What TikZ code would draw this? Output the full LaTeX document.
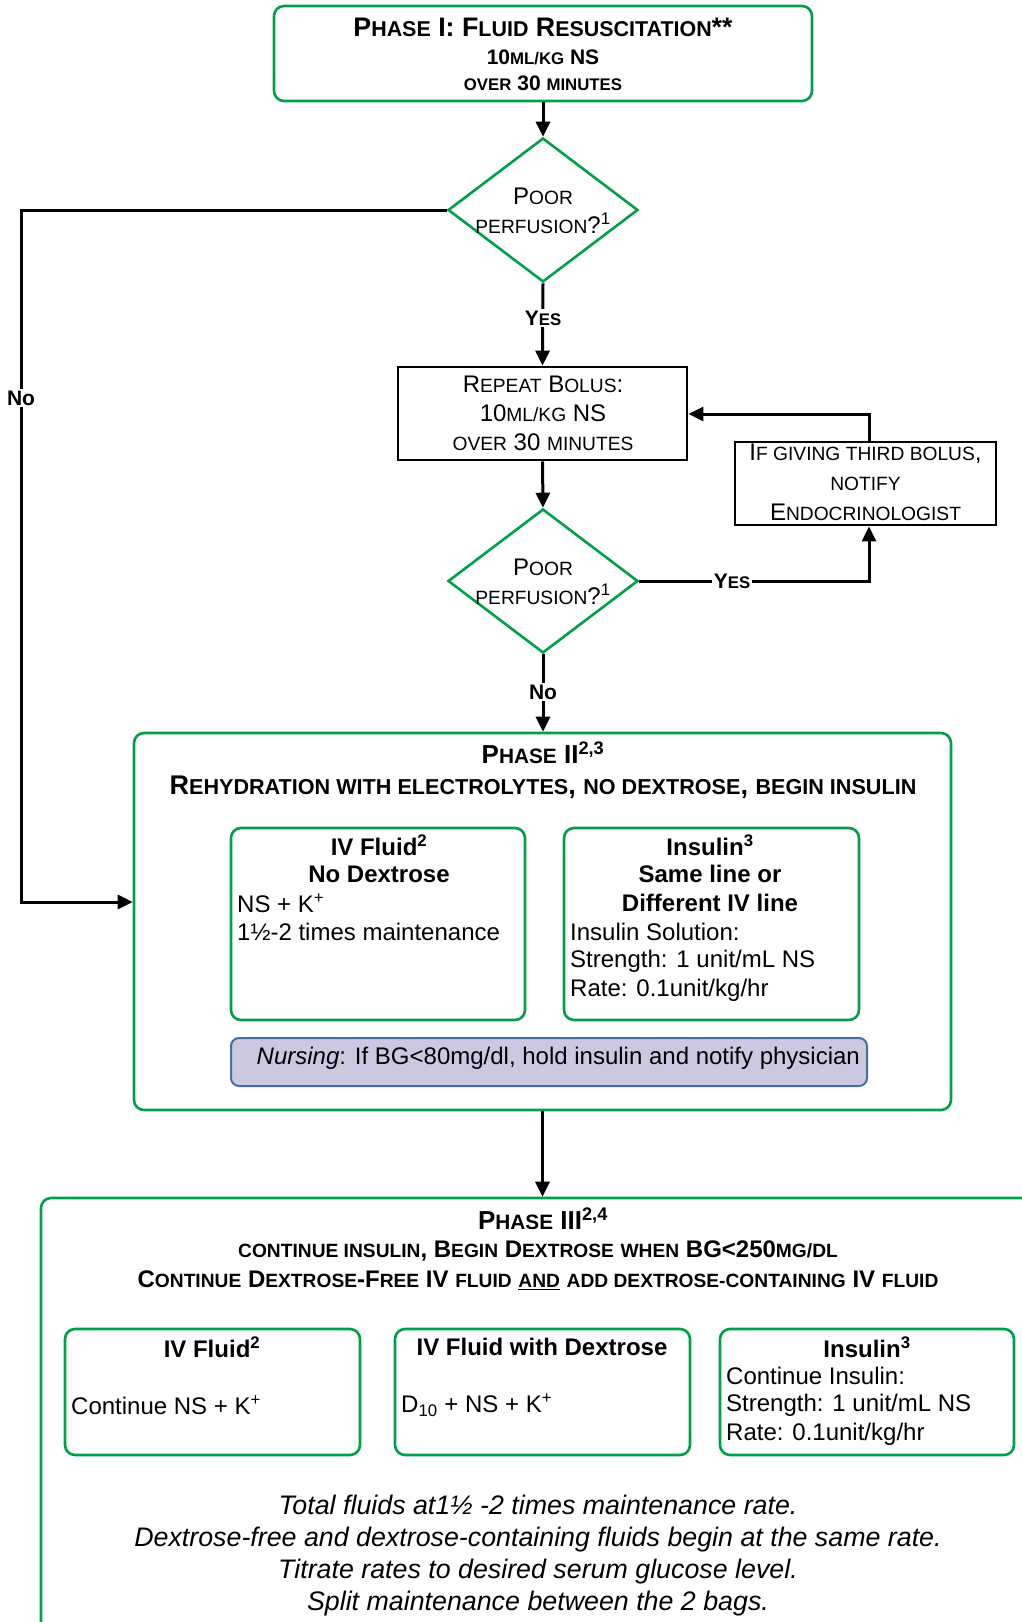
\documentclass[tikz,border=0pt]{standalone}
\usepackage{fontspec}
\setmainfont{Liberation Sans}
\usetikzlibrary{shapes.geometric,arrows.meta}
\definecolor{grn}{RGB}{0,160,75}
\definecolor{lav}{RGB}{204,200,226}
\definecolor{navy}{RGB}{70,110,160}
\newcommand\sm[1]{\scalebox{0.8}{#1}}
\begin{document}
\begin{tikzpicture}[x=1pt,y=-1pt,
  gbox/.style={draw=grn, line width=2.6pt, rounded corners=10pt, inner sep=0pt},
  kbox/.style={draw=black, line width=2.8pt, inner sep=0pt},
  dia/.style={diamond, draw=grn, line width=2.6pt, inner sep=0pt},
  conn/.style={line width=3pt, -{Triangle[length=15pt,width=14pt]}},
  t/.style={inner sep=0pt, font=\fontsize{24}{29}\selectfont},
  tb/.style={inner sep=0pt, font=\fontsize{24}{29}\selectfont\bfseries},
  hd/.style={inner sep=0pt, font=\fontsize{26}{30}\selectfont\bfseries},
  ti/.style={inner sep=0pt, font=\fontsize{26.8}{31}\selectfont\itshape},
  lbl/.style={fill=white, inner sep=1.5pt, font=\fontsize{21}{24}\selectfont\bfseries}]
\useasboundingbox (0,0) rectangle (1022,1622);
\clip (0,0) rectangle (1022,1622);
\fill[white] (0,0) rectangle (1022,1622);

% ---------- Phase I ----------
\node[gbox, minimum width=538pt, minimum height=95pt] (p1) at (543,53.5) {};
\node[hd, font=\fontsize{26.8}{30}\selectfont\bfseries] (p1a) at (543,27) {P\sm{HASE} I: F\sm{LUID} R\sm{ESUSCITATION}**};
\node[tb, font=\fontsize{21}{25}\selectfont\bfseries] (p1b) at (543,57) {10\sm{ML/KG} NS};
\node[tb, font=\fontsize{21}{25}\selectfont\bfseries] (p1c) at (543,83) {\sm{OVER} 30 \sm{MINUTES}};

% ---------- Diamond 1 ----------
\node[dia, minimum width=190pt, minimum height=144pt] (d1) at (543,210) {};
\node[t] (d1a) at (543,196) {P\sm{OOR}};
\node[t] (d1b) at (543,223) {\sm{PERFUSION}?\textsuperscript{1}};

% ---------- Repeat bolus ----------
\node[kbox, minimum width=289pt, minimum height=93pt] (rep) at (542.5,413.5) {};
\node[t] (repa) at (543,384) {R\sm{EPEAT} B\sm{OLUS}:};
\node[t] (repb) at (543,413) {10\sm{ML/KG} NS};
\node[t] (repc) at (543,442) {\sm{OVER} 30 \sm{MINUTES}};

% ---------- Notify ----------
\node[kbox, minimum width=261pt, minimum height=83pt] (ntf) at (865.5,483.5) {};
\node[t] (ntfa) at (865.5,454) {I\sm{F GIVING THIRD BOLUS},};
\node[t] (ntfb) at (865.5,484) {\sm{NOTIFY}};
\node[t] (ntfc) at (865.5,512) {E\sm{NDOCRINOLOGIST}};

% ---------- Diamond 2 ----------
\node[dia, minimum width=190pt, minimum height=144pt] (d2) at (543,581) {};
\node[t] (d2a) at (543,567) {P\sm{OOR}};
\node[t] (d2b) at (543,594) {\sm{PERFUSION}?\textsuperscript{1}};

% ---------- Phase II ----------
\node[gbox, minimum width=817pt, minimum height=377pt] (p2) at (542.5,921.5) {};
\node[hd] (p2a) at (543,753) {P\sm{HASE} II\textsuperscript{2,3}};
\node[hd, font=\fontsize{27}{30}\selectfont\bfseries] (p2b) at (543,787) {R\sm{EHYDRATION WITH ELECTROLYTES}, \sm{NO DEXTROSE}, \sm{BEGIN INSULIN}};

\node[gbox, minimum width=294pt, minimum height=192pt] (ivf) at (378,924) {};
\node[tb] (ivfa) at (379,845) {IV Fluid\textsuperscript{2}};
\node[tb] (ivfb) at (379,874) {No Dextrose};
\node[t, anchor=west] (ivfc) at (237,903) {NS + K\textsuperscript{+}};
\node[t, anchor=west] (ivfd) at (237,932) {1½-2 times maintenance};

\node[gbox, minimum width=295pt, minimum height=192pt] (ins) at (711.5,924) {};
\node[tb] (insa) at (710,845) {Insulin\textsuperscript{3}};
\node[tb] (insb) at (710,874) {Same line or};
\node[tb] (insc) at (710,903) {Different IV line};
\node[t, anchor=west] (insd) at (570,932) {Insulin Solution:};
\node[t, anchor=west] (inse) at (570,961) {Strength: 1 unit/mL NS};
\node[t, anchor=west] (insf) at (570,990) {Rate: 0.1unit/kg/hr};

\node[draw=navy, fill=lav, line width=2pt, rounded corners=8pt, inner sep=0pt,
      minimum width=636pt, minimum height=48pt] (nur) at (549,1062) {};
\node[t, anchor=west] (nurt) at (256.5,1058) {\textit{Nursing}: If BG<80mg/dl, hold insulin and notify physician};

% ---------- Phase III ----------
\node[gbox, minimum width=1039pt, minimum height=482pt] (p3) at (560.5,1439) {};
\node[hd] (p3a) at (543,1219) {P\sm{HASE} III\textsuperscript{2,4}};
\node[tb] (p3b) at (538,1251) {\sm{CONTINUE INSULIN}, B\sm{EGIN} D\sm{EXTROSE} \sm{WHEN} BG<250\sm{MG/DL}};
\node[tb] (p3c) at (538,1280) {C\sm{ONTINUE} D\sm{EXTROSE}-F\sm{REE} IV \sm{FLUID} \underline{\sm{AND}} \sm{ADD DEXTROSE-CONTAINING} IV \sm{FLUID}};

\node[gbox, minimum width=295pt, minimum height=126pt] (b1) at (212.5,1392) {};
\node[tb] (b1a) at (212,1347) {IV Fluid\textsuperscript{2}};
\node[t, anchor=west] (b1b) at (71,1405) {Continue NS + K\textsuperscript{+}};

\node[gbox, minimum width=295pt, minimum height=126pt] (b2) at (542.5,1392) {};
\node[tb] (b2a) at (542,1347) {IV Fluid with Dextrose};
\node[t, anchor=west] (b2b) at (401,1405) {D\textsubscript{10} + NS + K\textsuperscript{+}};

\node[gbox, minimum width=294pt, minimum height=126pt] (b3) at (867,1392) {};
\node[tb] (b3a) at (867,1347) {Insulin\textsuperscript{3}};
\node[t, anchor=west] (b3b) at (726,1376) {Continue Insulin:};
\node[t, anchor=west] (b3c) at (726,1405) {Strength: 1 unit/mL NS};
\node[t, anchor=west] (b3d) at (726,1434) {Rate: 0.1unit/kg/hr};

\node[ti, anchor=base] (n1) at (538,1514) {Total fluids at1½ -2 times maintenance rate.};
\node[ti, anchor=base] (n2) at (538,1546) {Dextrose-free and dextrose-containing fluids begin at the same rate.};
\node[ti, anchor=base] (n3) at (538,1578) {Titrate rates to desired serum glucose level.};
\node[ti, anchor=base] (n4) at (538,1610) {Split maintenance between the 2 bags.};

% ---------- connectors ----------
\coordinate (nocorner) at (21,210);
\coordinate (noend) at (21,902);
\coordinate (yc) at (869,581);
\coordinate (lc) at (869,414);

\draw[conn] (p1.south) -- (d1.north);
\draw[conn] (d1.west) -- (nocorner) -- (noend) -- (noend -| p2.west);
\draw[conn] (d1.south) -- (rep.north);
\draw[conn] (rep.south) -- (d2.north);
\draw[conn] (d2.east) -- (yc) -- (yc |- ntf.south);
\draw[conn] (lc |- ntf.north) -- (lc) -- (lc -| rep.east);
\draw[conn] (d2.south) -- (d2.south |- p2.north);
\draw[conn] (p2.south) -- (p2.south |- p3.north);

\node[lbl] (no1) at (21,398) {No};
\node[lbl] (yes1) at (543,318) {Y\sm{ES}};
\node[lbl] (yes2) at (732,581) {Y\sm{ES}};
\node[lbl] (no2) at (543,692) {No};
\end{tikzpicture}
\end{document}
